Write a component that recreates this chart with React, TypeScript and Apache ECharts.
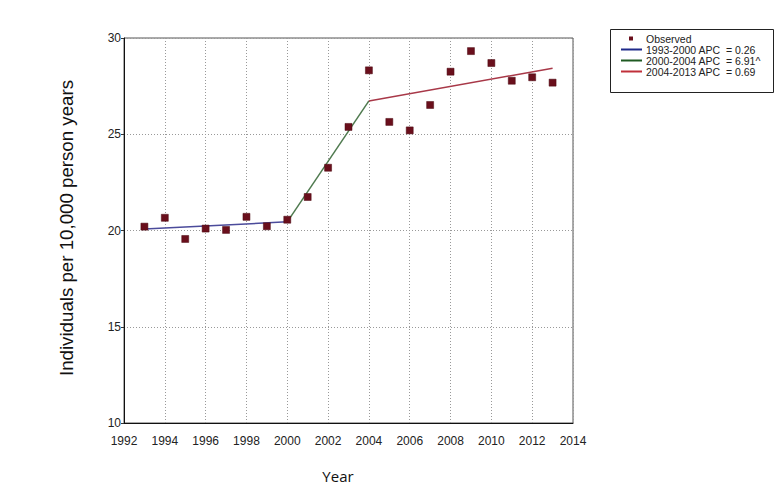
import React, { useEffect, useRef } from "react";
import * as echarts from "echarts";

const years = [1993, 1994, 1995, 1996, 1997, 1998, 1999, 2000, 2001, 2002, 2003, 2004, 2005, 2006, 2007, 2008, 2009, 2010, 2011, 2012, 2013];
const observed = [20.2, 20.66, 19.56, 20.1, 20.03, 20.71, 20.22, 20.56, 21.74, 23.26, 25.38, 28.32, 25.64, 25.2, 26.52, 28.25, 29.32, 28.7, 27.78, 27.96, 27.68];

const seg1Years = [1993, 2000];
const seg1Fit = [20.08, 20.45];
const seg2Years = [2000, 2004];
const seg2Fit = [20.45, 26.73];
const seg3Years = [2004, 2013];
const seg3Fit = [26.73, 28.43];

const legendLabels = ["Observed", "1993-2000 APC  = 0.26", "2000-2004 APC  = 6.91^", "2004-2013 APC  = 0.69"];
const xTitle = "Year";
const yTitle = "Individuals per 10,000 person years";

const markerColor = "#6a0f1c";
const lineColors = ["#4b4b9b", "#4f7a4f", "#a83848"];
const legendLineColors = ["#1f2a8a", "#1f5a22", "#c0303a"];

const pair = (xs: number[], ys: number[]) => xs.map((x, i) => [x, ys[i]]);

export default function App() {
  const ref = useRef<HTMLDivElement>(null);
  useEffect(() => {
    document.body.style.margin = "0";
    const chart = echarts.init(ref.current!, null, { renderer: "svg" });
    const font = "'Liberation Sans', Arial, sans-serif";
    const rowY = [38.5, 49.5, 60.5, 71.5];
    const legendGraphics: any[] = [
      {
        type: "rect",
        shape: { x: 610.5, y: 29.5, width: 163, height: 63 },
        style: { fill: "#fff", stroke: "#222", lineWidth: 1 },
      },
      {
        type: "rect",
        shape: { x: 629, y: rowY[0] - 2, width: 4, height: 4 },
        style: { fill: markerColor },
      },
    ];
    for (let i = 1; i < 4; i++) {
      legendGraphics.push({
        type: "line",
        shape: { x1: 621, y1: rowY[i], x2: 642, y2: rowY[i] },
        style: { stroke: legendLineColors[i - 1], lineWidth: 2 },
      });
    }
    legendLabels.forEach((t, i) => {
      legendGraphics.push({
        type: "text",
        x: 646,
        y: rowY[i],
        style: {
          text: t,
          font: `10.5px ${font}`,
          lineHeight: 10.5,
          fill: "#222",
          verticalAlign: "middle",
        },
      });
    });

    const lineSeries = (name: string, data: number[][], color: string) => ({
      name,
      type: "line",
      data,
      showSymbol: false,
      symbol: "none",
      lineStyle: { color, width: 1.5 },
      z: 3,
    });

    chart.setOption({
      animation: false,
      backgroundColor: "#fff",
      grid: {
        left: 124,
        top: 38,
        width: 449,
        height: 385,
        show: true,
        borderColor: "#555",
        borderWidth: 1,
        backgroundColor: "transparent",
      },
      xAxis: {
        type: "value",
        min: 1992,
        max: 2014,
        interval: 2,
        axisLine: { show: true, onZero: false, lineStyle: { color: "#111", width: 1 } },
        axisTick: { show: false },
        axisLabel: { color: "#222", fontSize: 12, fontFamily: font, margin: 12, formatter: (v: number) => String(v) },
        splitLine: { show: true, lineStyle: { color: "#999", type: [1, 2], width: 1 } },
      },
      yAxis: {
        type: "value",
        min: 10,
        max: 30,
        interval: 5,
        axisLine: { show: true, onZero: false, lineStyle: { color: "#111", width: 1 } },
        axisTick: { show: true, length: 3, lineStyle: { color: "#333" } },
        axisLabel: { color: "#222", fontSize: 12, fontFamily: font, margin: 3 },
        splitLine: { show: true, lineStyle: { color: "#999", type: [1, 2], width: 1 } },
      },
      series: [
        lineSeries("seg1", pair(seg1Years, seg1Fit), lineColors[0]),
        lineSeries("seg2", pair(seg2Years, seg2Fit), lineColors[1]),
        lineSeries("seg3", pair(seg3Years, seg3Fit), lineColors[2]),
        {
          name: "Observed",
          type: "scatter",
          data: pair(years, observed),
          symbol: "rect",
          symbolSize: 7,
          itemStyle: { color: markerColor, opacity: 1, borderColor: "#4a0810", borderWidth: 0.5 },
          z: 4,
        },
      ],
      graphic: [
        ...legendGraphics,
        {
          type: "text",
          x: 66,
          y: 228,
          rotation: Math.PI / 2,
          style: {
            text: yTitle,
            font: `18.7px ${font}`,
            fill: "#111",
            align: "center",
            verticalAlign: "middle",
          },
        },
        {
          type: "text",
          x: 338,
          y: 476,
          style: {
            text: xTitle,
            font: `15px 'Open Sans', sans-serif`,
            fill: "#111",
            align: "center",
            verticalAlign: "middle",
          },
        },
      ],
    });
    return () => chart.dispose();
  }, []);
  return <div ref={ref} style={{ width: 777, height: 485 }} />;
}
